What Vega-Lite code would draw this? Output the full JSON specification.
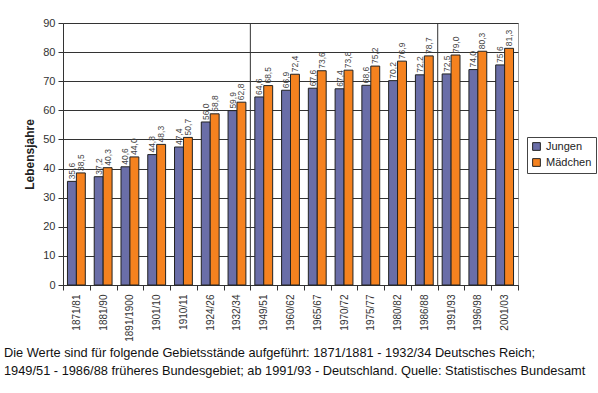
{
  "$schema": "https://vega.github.io/schema/vega-lite/v6.json",
  "autosize": {"type": "none"},
  "padding": {"left": 63, "top": 23, "right": 80, "bottom": 108},
  "width": 455,
  "height": 262,
  "background": "white",
  "config": {
    "locale": {"number": {"decimal": ",", "thousands": ".", "grouping": [3], "currency": ["", " €"]}},
    "font": "Liberation Sans",
    "view": {"stroke": "#999", "strokeWidth": 1}
  },
  "title": {
    "text": ["Die Werte sind für folgende Gebietsstände aufgeführt: 1871/1881 - 1932/34 Deutsches Reich;", "1949/51 - 1986/88 früheres Bundesgebiet; ab 1991/93 - Deutschland.   Quelle: Statistisches Bundesamt"],
    "orient": "bottom",
    "anchor": "start",
    "frame": "group",
    "dx": -59,
    "offset": 6,
    "fontSize": 12.8,
    "fontWeight": "normal",
    "color": "#111",
    "lineHeight": 18
  },
  "datasets": {
    "le": [
      {"period": "1871/81", "group": "Jungen", "value": 35.6}, {"period": "1871/81", "group": "Mädchen", "value": 38.5},
      {"period": "1881/90", "group": "Jungen", "value": 37.2}, {"period": "1881/90", "group": "Mädchen", "value": 40.3},
      {"period": "1891/1900", "group": "Jungen", "value": 40.6}, {"period": "1891/1900", "group": "Mädchen", "value": 44.0},
      {"period": "1901/10", "group": "Jungen", "value": 44.8}, {"period": "1901/10", "group": "Mädchen", "value": 48.3},
      {"period": "1910/11", "group": "Jungen", "value": 47.4}, {"period": "1910/11", "group": "Mädchen", "value": 50.7},
      {"period": "1924/26", "group": "Jungen", "value": 56.0}, {"period": "1924/26", "group": "Mädchen", "value": 58.8},
      {"period": "1932/34", "group": "Jungen", "value": 59.9}, {"period": "1932/34", "group": "Mädchen", "value": 62.8},
      {"period": "1949/51", "group": "Jungen", "value": 64.6}, {"period": "1949/51", "group": "Mädchen", "value": 68.5},
      {"period": "1960/62", "group": "Jungen", "value": 66.9}, {"period": "1960/62", "group": "Mädchen", "value": 72.4},
      {"period": "1965/67", "group": "Jungen", "value": 67.6}, {"period": "1965/67", "group": "Mädchen", "value": 73.6},
      {"period": "1970/72", "group": "Jungen", "value": 67.4}, {"period": "1970/72", "group": "Mädchen", "value": 73.8},
      {"period": "1975/77", "group": "Jungen", "value": 68.6}, {"period": "1975/77", "group": "Mädchen", "value": 75.2},
      {"period": "1980/82", "group": "Jungen", "value": 70.2}, {"period": "1980/82", "group": "Mädchen", "value": 76.9},
      {"period": "1986/88", "group": "Jungen", "value": 72.2}, {"period": "1986/88", "group": "Mädchen", "value": 78.7},
      {"period": "1991/93", "group": "Jungen", "value": 72.5}, {"period": "1991/93", "group": "Mädchen", "value": 79.0},
      {"period": "1996/98", "group": "Jungen", "value": 74.0}, {"period": "1996/98", "group": "Mädchen", "value": 80.3},
      {"period": "2001/03", "group": "Jungen", "value": 75.6}, {"period": "2001/03", "group": "Mädchen", "value": 81.3}
    ],
    "breaks": [{"period": "1949/51"}, {"period": "1991/93"}]
  },
  "data": {"name": "le"},
  "encoding": {
    "x": {
      "field": "period", "type": "nominal", "sort": null,
      "scale": {"paddingInner": 0, "paddingOuter": 0},
      "axis": {
        "title": null, "labelAngle": 270, "labelAlign": "right", "labelBaseline": "middle",
        "labelFontSize": 10, "labelColor": "#333", "labelPadding": 4,
        "tickBand": "extent", "tickSize": 5, "tickColor": "#333",
        "domainColor": "#333"
      }
    },
    "y": {
      "field": "value", "type": "quantitative",
      "scale": {"domain": [0, 90]},
      "axis": {
        "title": "Lebensjahre", "titleFontSize": 12, "titleFontWeight": "bold", "titleColor": "#222", "titlePadding": 6,
        "values": [0, 10, 20, 30, 40, 50, 60, 70, 80, 90], "labelOverlap": false,
        "labelFontSize": 11, "labelColor": "#333", "labelPadding": 3,
        "tickSize": 5, "tickColor": "#333", "domainColor": "#333",
        "grid": true, "gridColor": "#333", "gridWidth": 1
      }
    }
  },
  "layer": [
    {
      "mark": {"type": "bar", "stroke": "#222", "strokeWidth": 1},
      "encoding": {
        "xOffset": {"field": "group", "type": "nominal", "scale": {"paddingInner": 0, "paddingOuter": 0.5}},
        "color": {
          "field": "group", "type": "nominal",
          "scale": {"domain": ["Jungen", "Mädchen"], "range": ["#6a6ea8", "#f5821f"]},
          "legend": {
            "title": null, "orient": "none", "legendX": 464, "legendY": 114,
            "strokeColor": "#444", "padding": 4, "symbolType": "square", "symbolSize": 60,
            "symbolStrokeColor": "#222", "symbolStrokeWidth": 1, "labelFontSize": 11, "labelColor": "#222",
            "rowPadding": 3
          }
        }
      }
    },
    {
      "mark": {"type": "text", "angle": 270, "align": "left", "baseline": "middle", "dx": 2, "fontSize": 8.5, "color": "#444"},
      "encoding": {
        "xOffset": {"field": "group", "type": "nominal", "scale": {"paddingInner": 0, "paddingOuter": 0.5}},
        "text": {"field": "value", "type": "quantitative", "format": ".1f"}
      }
    },
    {
      "data": {"name": "breaks"},
      "mark": {"type": "rule", "color": "#333", "strokeWidth": 1},
      "encoding": {
        "x": {"field": "period", "type": "nominal", "bandPosition": 0},
        "y": null
      }
    }
  ]
}
